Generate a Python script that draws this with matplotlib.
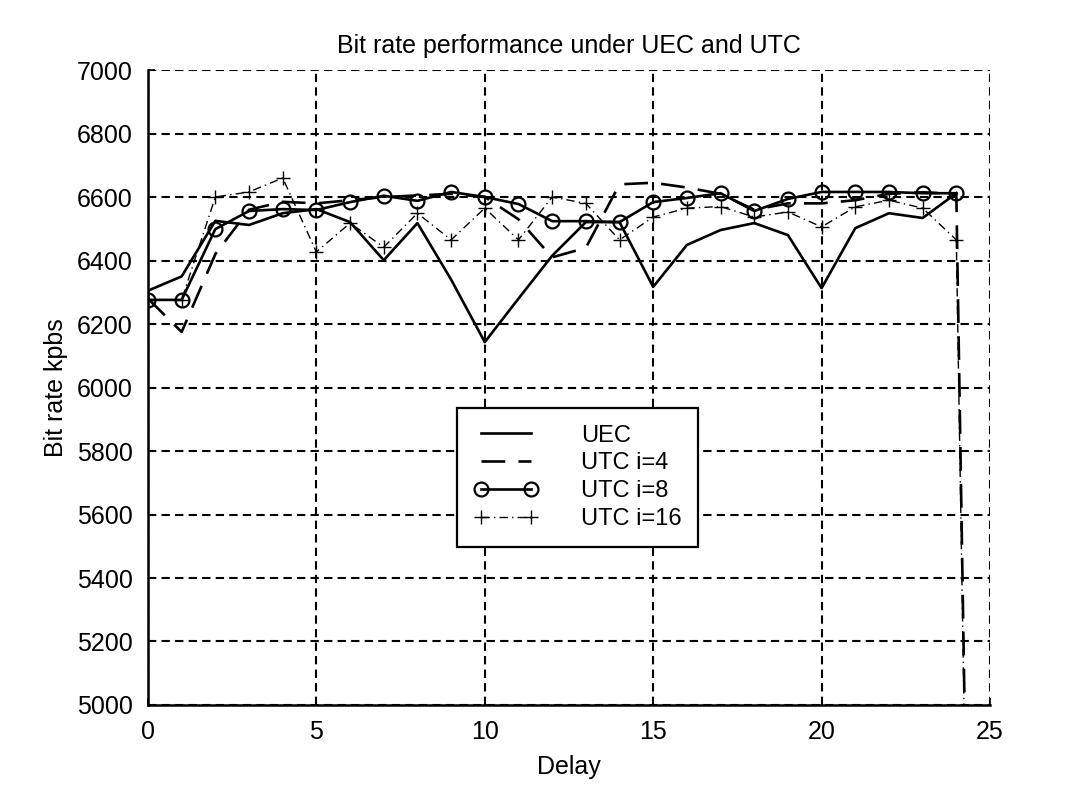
import matplotlib
matplotlib.use("Agg")
import matplotlib.pyplot as plt

plt.rcParams['font.family'] = ['Liberation Sans', 'DejaVu Sans']

# Delay steps (UTC runs include one extra step where the rate collapses)
delay = list(range(26))

# Bit rate (kbps) per scheme
uec = [6305, 6350, 6525, 6512, 6549, 6562, 6521, 6401, 6518, 6340,
       6143, 6280, 6415, 6521, 6521, 6317, 6449, 6496, 6518, 6480,
       6313, 6502, 6549, 6534, 6612]
utc_i4 = [6280, 6175, 6420, 6560, 6585, 6580, 6590, 6600, 6605, 6610,
          6600, 6530, 6410, 6440, 6640, 6645, 6630, 6610, 6560, 6580,
          6580, 6590, 6610, 6615, 6610, 0]
utc_i8 = [6276, 6276, 6499, 6556, 6562, 6559, 6584, 6604, 6588, 6616,
          6600, 6578, 6524, 6524, 6521, 6584, 6597, 6612, 6556, 6594,
          6616, 6616, 6616, 6612, 6612]
utc_i16 = [6276, 6276, 6600, 6616, 6660, 6427, 6518, 6442, 6549, 6465,
           6565, 6465, 6600, 6580, 6465, 6537, 6565, 6570, 6537, 6553,
           6506, 6569, 6590, 6565, 6465, 0]

labels = ['UEC', 'UTC i=4', 'UTC i=8', 'UTC i=16']
x_ticks = [0, 5, 10, 15, 20, 25]
y_ticks = list(range(5000, 7001, 200))

fig = plt.figure(figsize=(10.92, 7.87), dpi=100)
ax = fig.add_axes([0.1355, 0.1042, 0.7711, 0.8068])

ax.plot(delay[:len(uec)], uec, color='black', lw=1.9, ls='-', label=labels[0])
ax.plot(delay[:len(utc_i4)], utc_i4, color='black', lw=1.9,
        ls=(0, (9, 5)), label=labels[1])
ax.plot(delay[:len(utc_i8)], utc_i8, color='black', lw=1.9, ls='-',
        marker='o', ms=10, mfc='none', mec='black', mew=1.6, label=labels[2])
ax.plot(delay[:len(utc_i16)], utc_i16, color='black', lw=1.0,
        ls=(0, (6, 3, 1, 3)), marker='+', ms=10, mew=1.0, label=labels[3])

ax.set_xlim(0, 25)
ax.set_ylim(5000, 7000)
ax.set_xticks(x_ticks)
ax.set_yticks(y_ticks)
ax.tick_params(direction='in', length=5, width=1.2, labelsize=18,
               pad=11, colors='black')
ax.grid(True, color='black', lw=1.5, ls=(0, (4, 2.5)))
ax.set_axisbelow(True)

for side in ('top', 'right'):
    ax.spines[side].set_visible(False)
for side in ('left', 'bottom'):
    ax.spines[side].set_linewidth(1.8)
    ax.spines[side].set_color('black')

ax.set_title('Bit rate performance under UEC and UTC', fontsize=18, pad=12)
ax.set_xlabel('Delay', fontsize=18, labelpad=8)
ax.set_ylabel('Bit rate kpbs', fontsize=18, labelpad=6)

leg = ax.legend(loc='upper left', bbox_to_anchor=(457 / 1092, 1 - 408 / 787),
                bbox_transform=fig.transFigure, fontsize=17, numpoints=2,
                handlelength=2.75, handletextpad=1.8, labelspacing=0.25,
                borderpad=0.7, borderaxespad=0, fancybox=False, framealpha=1,
                edgecolor='black')
leg.get_frame().set_linewidth(1.6)

fig.savefig('out.png', dpi=100, facecolor='white')
